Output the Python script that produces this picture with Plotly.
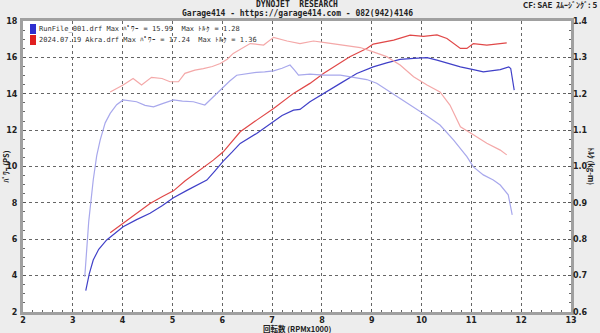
import plotly.graph_objects as go

# ---------------- data ----------------
blue_power_rpm = [3.26, 3.33, 3.41, 3.52, 3.68, 3.85, 4.01, 4.28, 4.55, 4.80, 5.02, 5.30, 5.55, 5.69,
                  5.85, 6.02, 6.20, 6.36, 6.69, 7.03, 7.20, 7.43, 7.56, 7.76, 8.03, 8.37, 8.70, 9.03,
                  9.30, 9.57, 9.84, 10.11, 10.31, 10.51, 10.78, 11.04, 11.24, 11.58, 11.75, 11.79, 11.86]
blue_power = [3.17, 4.10, 4.86, 5.45, 5.96, 6.35, 6.69, 7.08, 7.43, 7.85, 8.28, 8.70, 9.07, 9.25,
              9.75, 10.30, 10.80, 11.27, 11.82, 12.46, 12.80, 13.10, 13.14, 13.56, 14.02, 14.57, 15.11, 15.48,
              15.70, 15.89, 15.94, 15.99, 15.85, 15.70, 15.48, 15.33, 15.20, 15.33, 15.48, 15.39, 14.20]

red_power_rpm = [3.75, 4.01, 4.28, 4.55, 4.80, 5.02, 5.25, 5.55, 5.82, 6.02, 6.20, 6.36, 6.69, 7.03,
                 7.43, 7.76, 8.03, 8.30, 8.56, 8.90, 9.03, 9.44, 9.77, 10.04, 10.31, 10.51, 10.78, 10.91,
                 11.04, 11.31, 11.51, 11.71]
red_power = [6.36, 6.87, 7.42, 7.97, 8.35, 8.66, 9.20, 9.80, 10.35, 10.81, 11.40, 11.91, 12.55, 13.19,
             14.02, 14.57, 15.11, 15.60, 16.03, 16.49, 16.73, 16.95, 17.22, 17.16, 17.24, 17.04, 16.49, 16.49,
             16.76, 16.67, 16.73, 16.80]

blue_torque_rpm = [3.24, 3.32, 3.41, 3.48, 3.55, 3.65, 3.75, 3.88, 4.01, 4.15, 4.28, 4.45, 4.62, 4.80,
                   5.02, 5.20, 5.42, 5.65, 5.82, 6.02, 6.15, 6.29, 6.50, 6.69, 6.85, 7.03, 7.20, 7.36,
                   7.45, 7.53, 7.76, 8.03, 8.37, 8.63, 8.90, 9.10, 9.37, 9.57, 9.84, 10.11, 10.37, 10.64,
                   10.91, 11.04, 11.24, 11.44, 11.58, 11.74, 11.82]
blue_torque = [0.697, 0.850, 0.963, 1.030, 1.073, 1.120, 1.146, 1.170, 1.183, 1.181, 1.178, 1.168, 1.164, 1.173,
               1.183, 1.180, 1.178, 1.169, 1.192, 1.219, 1.235, 1.251, 1.256, 1.259, 1.260, 1.263, 1.270, 1.279,
               1.265, 1.251, 1.254, 1.251, 1.251, 1.245, 1.239, 1.229, 1.205, 1.187, 1.164, 1.139, 1.114, 1.073,
               1.027, 0.999, 0.977, 0.963, 0.949, 0.922, 0.867]

red_torque_rpm = [3.75, 4.01, 4.21, 4.38, 4.58, 4.79, 4.95, 5.12, 5.25, 5.45, 5.62, 5.80, 5.96, 6.10,
                  6.22, 6.40, 6.56, 6.70, 6.83, 7.03, 7.30, 7.56, 7.83, 8.10, 8.43, 8.77, 9.03, 9.30,
                  9.57, 9.84, 10.11, 10.37, 10.57, 10.78, 11.04, 11.31, 11.58, 11.71]
red_torque = [1.205, 1.224, 1.242, 1.224, 1.245, 1.242, 1.233, 1.233, 1.256, 1.265, 1.269, 1.275, 1.283, 1.295,
              1.311, 1.325, 1.338, 1.336, 1.334, 1.355, 1.345, 1.338, 1.345, 1.340, 1.334, 1.327, 1.315, 1.302,
              1.279, 1.247, 1.224, 1.205, 1.169, 1.109, 1.087, 1.064, 1.045, 1.032]

x_ticks = list(range(2, 14))
y_ticks = list(range(2, 19, 2))
y2_ticks = [0.6, 0.7, 0.8, 0.9, 1.0, 1.1, 1.2, 1.3, 1.4]

legend_lines = ["RunFile_001.drf Max ﾊﾟﾜｰ = 15.99  Max ﾄﾙｸ = 1.28",
                "2024.07.19 Akra.drf Max ﾊﾟﾜｰ = 17.24  Max ﾄﾙｸ = 1.36"]
legend_colors = ["#2f2fd0", "#e02020"]

# ---------------- style ----------------
C_BP = "#4040c8"
C_BT = "#a8a8ec"
C_RP = "#e04848"
C_RT = "#f4a8a8"
JP = "Noto Sans CJK JP"

fig = go.Figure()
fig.add_trace(go.Scatter(x=blue_torque_rpm, y=blue_torque, yaxis="y2", mode="lines",
                         line=dict(color=C_BT, width=1.2), showlegend=False))
fig.add_trace(go.Scatter(x=red_torque_rpm, y=red_torque, yaxis="y2", mode="lines",
                         line=dict(color=C_RT, width=1.2), showlegend=False))
fig.add_trace(go.Scatter(x=red_power_rpm, y=red_power, mode="lines",
                         line=dict(color=C_RP, width=1.2), showlegend=False))
fig.add_trace(go.Scatter(x=blue_power_rpm, y=blue_power, mode="lines",
                         line=dict(color=C_BP, width=1.2), showlegend=False))

tickfont = dict(family="DejaVu Sans", size=8, color="#222", weight="bold")
fig.update_layout(
    width=600, height=333,
    margin=dict(l=23, r=29, t=21, b=21),
    paper_bgcolor="#ededed",
    plot_bgcolor="white",
    xaxis=dict(range=[2, 13], tickvals=x_ticks, showgrid=True, gridcolor="#666",
               griddash="dot", gridwidth=1, zeroline=False, automargin=False,
               showline=True, linecolor="#a0a0a0", linewidth=3, mirror=True,
               ticks="inside", ticklen=3, tickcolor="#555",
               minor=dict(dtick=0.2, ticks="inside", ticklen=2, tickcolor="#666", showgrid=False),
               tickfont=tickfont, ticklabelstandoff=-2),
    yaxis=dict(range=[2, 18], tickvals=y_ticks, showgrid=True, gridcolor="#666",
               griddash="dot", gridwidth=1, zeroline=False, automargin=False,
               showline=True, linecolor="#a0a0a0", linewidth=3, mirror=True,
               ticks="inside", ticklen=3, tickcolor="#555",
               minor=dict(dtick=0.5, ticks="inside", ticklen=2, tickcolor="#666", showgrid=False),
               tickfont=tickfont, ticklabelstandoff=1),
    yaxis2=dict(range=[0.6, 1.4], tickvals=y2_ticks, tickformat=".1f", overlaying="y", side="right",
                showgrid=False, zeroline=False, ticks="inside", ticklen=3, tickcolor="#555",
                automargin=False,
                minor=dict(dtick=0.025, ticks="inside", ticklen=2, tickcolor="#666"),
                tickfont=tickfont, ticklabelstandoff=1),
)

ann = []
ann.append(dict(text="DYNOJET  RESEARCH", x=0.5, y=1.0, xref="paper", yref="paper",
                xanchor="center", yanchor="middle", yshift=17, showarrow=False,
                font=dict(family="DejaVu Sans Mono", size=8, color="#222", weight="bold")))
ann.append(dict(text="Garage414 - https://garage414.com - 082(942)4146", x=0.5, y=1.0, xref="paper",
                yref="paper", xanchor="center", yanchor="middle", yshift=8, showarrow=False,
                font=dict(family="DejaVu Sans Mono", size=8, color="#222", weight="bold")))
ann.append(dict(text="CF: SAE  ｽﾑｰｼﾞﾝｸﾞ: 5", x=1.0, y=1.0, xref="paper", yref="paper",
                xanchor="right", yanchor="middle", xshift=28, yshift=17, showarrow=False,
                font=dict(family=JP, size=8, color="#222", weight="bold")))
ann.append(dict(text="ﾊﾟﾜｰ (PS)", x=0, y=0.5, xref="paper", yref="paper", textangle=-90,
                xanchor="center", yanchor="middle", xshift=-18, showarrow=False,
                font=dict(family=JP, size=7.5, color="#222", weight="bold")))
ann.append(dict(text="ﾄﾙｸ (kg-m)", x=1, y=0.5, xref="paper", yref="paper", textangle=90,
                xanchor="center", yanchor="middle", xshift=20, showarrow=False,
                font=dict(family=JP, size=7.5, color="#222", weight="bold")))
ann.append(dict(text="回転数 (RPMx1000)", x=0.5, y=0, xref="paper", yref="paper",
                xanchor="center", yanchor="middle", yshift=-16.5, showarrow=False,
                font=dict(family=JP, size=7.5, color="#222", weight="bold")))

shapes = []
for i, (txt, col) in enumerate(zip(legend_lines, legend_colors)):
    ytop = 1 - (3 + i * 11) / 291
    ybot = 1 - (13 + i * 11) / 291
    shapes.append(dict(type="rect", xref="paper", yref="paper", x0=7 / 548, x1=13 / 548,
                       y0=ybot, y1=ytop, fillcolor=col, line=dict(width=0)))
    ann.append(dict(text=txt, x=14 / 548, y=(ytop + ybot) / 2, xref="paper", yref="paper",
                    xanchor="left", yanchor="middle", showarrow=False,
                    font=dict(family="DejaVu Sans Mono", size=7, color="#333")))

fig.update_layout(annotations=ann, shapes=shapes)
fig.write_html("out.html", config={"displayModeBar": False},
               post_script="document.body.style.margin='0';document.body.style.background='#ededed';")
